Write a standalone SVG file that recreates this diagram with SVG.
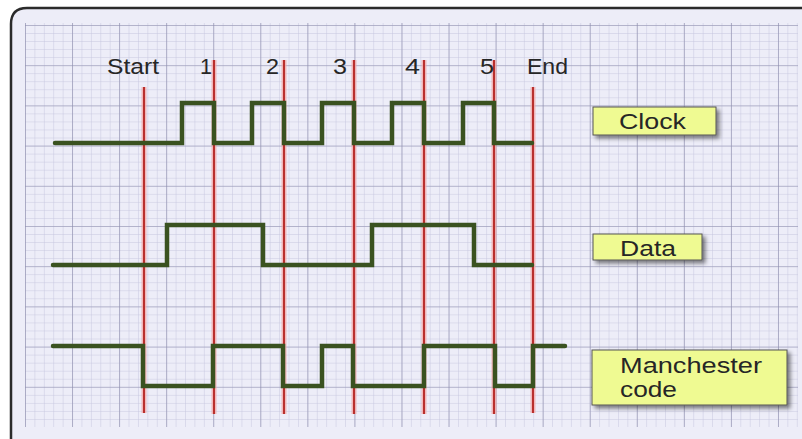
<svg xmlns="http://www.w3.org/2000/svg" width="802" height="439" viewBox="0 0 802 439">
  <defs>
    <pattern id="minor" patternUnits="userSpaceOnUse" x="25" y="25" width="9.412" height="8.04">
      <path d="M0 0V8.04M0 0H9.412" fill="none" stroke="#c6c6de" stroke-width="1"/>
    </pattern>
    <pattern id="major" patternUnits="userSpaceOnUse" x="25" y="25" width="47.06" height="40.2">
      <path d="M0 0V40.2M0 0H47.06" fill="none" stroke="#8c8cab" stroke-width="1.2"/>
    </pattern>
    <filter id="shadow" x="-10%" y="-20%" width="130%" height="160%">
      <feGaussianBlur in="SourceAlpha" stdDeviation="2"/>
      <feOffset dx="3" dy="3" result="b"/>
      <feComponentTransfer><feFuncA type="linear" slope="0.5"/></feComponentTransfer>
      <feMerge><feMergeNode/><feMergeNode in="SourceGraphic"/></feMerge>
    </filter>
    <style>
      .lbl { font-family: "Liberation Sans", Arial, sans-serif; font-size: 22px; fill: #262626; }
      .redhalo { stroke: #f2a6a6; stroke-width: 5; opacity: 0.75; fill: none; }
      .red { stroke: #b9302e; stroke-width: 2; fill: none; }
      .wave { stroke: #3a5220; stroke-width: 4.5; fill: none; stroke-linejoin: miter; stroke-linecap: round; }
      .box { fill: #effa92; stroke: #555; stroke-width: 1; }
    </style>
  </defs>

  <!-- frame -->
  <rect x="0" y="0" width="802" height="439" fill="#ffffff"/>
  <path d="M11 439 V24 Q11 8 27 8 H802 V439 Z" fill="#ededf8"/>
  <rect x="25" y="23" width="773" height="404" fill="url(#minor)"/>
  <rect x="25" y="23" width="773" height="404" fill="url(#major)"/>
  <path d="M11 439 V24 Q11 8 27 8 H802" fill="none" stroke="#2b2b2b" stroke-width="2.5"/>

  <!-- marker lines -->
  <g id="markers">
    <path class="redhalo" d="M144 87V413M214 60V414M284 60V414M354 60V414M424 60V414M494 60V414M533 87V413"/>
    <path class="red" d="M144 87V413M214 60V414M284 60V414M354 60V414M424 60V414M494 60V414M533 87V413"/>
  </g>

  <!-- marker labels -->
  <g id="marker-labels">
    <text class="lbl" x="107" y="74" textLength="52" lengthAdjust="spacingAndGlyphs">Start</text>
    <text class="lbl" x="200" y="74" textLength="12" lengthAdjust="spacingAndGlyphs">1</text>
    <text class="lbl" x="266" y="74" textLength="13" lengthAdjust="spacingAndGlyphs">2</text>
    <text class="lbl" x="333" y="74" textLength="14" lengthAdjust="spacingAndGlyphs">3</text>
    <text class="lbl" x="405" y="74" textLength="15" lengthAdjust="spacingAndGlyphs">4</text>
    <text class="lbl" x="480" y="74" textLength="14" lengthAdjust="spacingAndGlyphs">5</text>
    <text class="lbl" x="527" y="74" textLength="41" lengthAdjust="spacingAndGlyphs">End</text>
  </g>

  <!-- waveforms -->
  <g id="clock-wave">
    <path class="wave" d="M55 143H182V103H214V143H252V103H284V143H322V103H354V143H392V103H424V143H463V103H494V143H532"/>
  </g>
  <g id="data-wave">
    <path class="wave" d="M53 265H167V225H263V265H372V225H474V265H532"/>
  </g>
  <g id="manchester-wave">
    <path class="wave" d="M53 346H143V386H213V346H283V386H322V346H353V386H424V346H495V386H533V346H565"/>
  </g>

  <!-- label boxes -->
  <g id="clock-label">
    <rect class="box" x="593" y="107" width="123" height="28" filter="url(#shadow)"/>
    <text class="lbl" x="619" y="129" textLength="67" lengthAdjust="spacingAndGlyphs">Clock</text>
  </g>
  <g id="data-label">
    <rect class="box" x="593" y="234" width="109" height="26" filter="url(#shadow)"/>
    <text class="lbl" x="620" y="256" textLength="56" lengthAdjust="spacingAndGlyphs">Data</text>
  </g>
  <g id="manchester-label">
    <rect class="box" x="592" y="350" width="195" height="55" filter="url(#shadow)"/>
    <text class="lbl" x="620" y="373" textLength="142" lengthAdjust="spacingAndGlyphs">Manchester</text>
    <text class="lbl" x="620" y="397" textLength="57" lengthAdjust="spacingAndGlyphs">code</text>
  </g>
</svg>
